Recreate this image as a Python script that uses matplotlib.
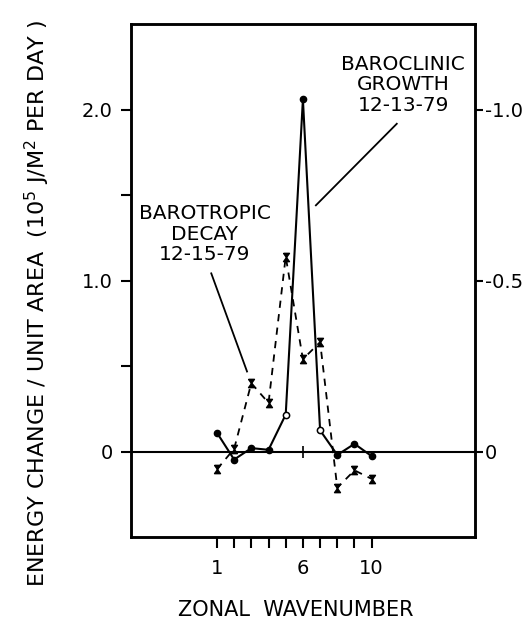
import numpy as np
import matplotlib
matplotlib.use('Agg')
import matplotlib.pyplot as plt

# 数据
wavenumber = [1, 2, 3, 4, 5, 6, 7, 8, 9, 10]
# 斜压增长 12-13-79 （左轴）
baroclinic = [0.11, -0.047, 0.02, 0.01, 0.216, 2.06, 0.124, -0.02, 0.045, -0.027]
open_pts = [5, 7]   # 空心圆点
# 正压衰减 12-15-79 （右轴）
barotropic = [0.052, -0.008, -0.20, -0.142, -0.57, -0.27, -0.32, 0.106, 0.055, 0.08]

left_ticks = [0, 0.5, 1.0, 1.5, 2.0]
left_labels = ['0', '', '1.0', '', '2.0']
right_ticks = [0, -0.5, -1.0]
right_labels = ['0', '-0.5', '-1.0']
x_labels = {1: '1', 6: '6', 10: '10'}

fs = 14.5
plt.rcParams['font.family'] = ['DejaVu Sans']

fig = plt.figure(figsize=(5.29, 6.24), dpi=100)
ax = fig.add_axes([0.2476, 0.1394, 0.650, 0.822])
ax2 = ax.twinx()

ax.set_xlim(-4, 16)
ax.set_ylim(-0.5, 2.5)
ax2.set_ylim(0.25, -1.25)

# 零线
ax.axhline(0, color='black', lw=1.5)
ax.vlines(6, -0.035, 0.035, color='black', lw=1.2)

# 斜压曲线
ax.plot(wavenumber, baroclinic, color='black', lw=1.5)
filled = [(x, y) for x, y in zip(wavenumber, baroclinic) if x not in open_pts]
hollow = [(x, y) for x, y in zip(wavenumber, baroclinic) if x in open_pts]
ax.plot([p[0] for p in filled], [p[1] for p in filled], 'o', color='black', ms=4.5, ls='none')
ax.plot([p[0] for p in hollow], [p[1] for p in hollow], 'o', mfc='white', mec='black',
        mew=1.1, ms=4.5, ls='none')

# 正压曲线（沙漏形标记）
hourglass = [(-1, 1.4), (1, 1.4), (-1, -1.4), (1, -1.4), (-1, 1.4)]
ax2.plot(wavenumber, barotropic, color='black', lw=1.3, ls=(0, (4, 3.5)),
         marker=hourglass, ms=6, mfc='black', mec='black')

# 刻度
ax.set_yticks(left_ticks)
ax.set_yticklabels(left_labels, fontsize=14)
ax2.set_yticks(right_ticks)
ax2.set_yticklabels(right_labels, fontsize=14)
ax.set_xticks(wavenumber)
ax.set_xticklabels([x_labels.get(x, '') for x in wavenumber], fontsize=14)
ax.tick_params(axis='x', direction='out', length=8, width=1.5, pad=8)
ax.tick_params(axis='y', direction='out', length=7, width=1.5, pad=6)
ax2.tick_params(axis='y', direction='out', length=6, width=1.5, pad=1.5)

for a in (ax, ax2):
    for s in a.spines.values():
        s.set_linewidth(1.8)

# 注释
ax.text(11.83, 2.145, 'BAROCLINIC\nGROWTH\n12-13-79', ha='center', va='center',
        fontsize=fs, linespacing=1.1)
ax.plot([11.46, 6.755], [1.917, 1.44], color='black', lw=1.3)
ax.text(0.28, 1.27, 'BAROTROPIC\nDECAY\n12-15-79', ha='center', va='center',
        fontsize=fs, linespacing=1.1)
ax.plot([0.67, 2.75], [1.042, 0.468], color='black', lw=1.3)

# 轴标题
fig.text(0.07, 0.514, 'ENERGY CHANGE / UNIT AREA  (10$^5$ J/M$^2$ PER DAY )',
         rotation=90, ha='center', va='center', fontsize=16)
fig.text(0.56, 0.022, 'ZONAL  WAVENUMBER', ha='center', va='center', fontsize=15)

fig.savefig('out.png', dpi=100)
